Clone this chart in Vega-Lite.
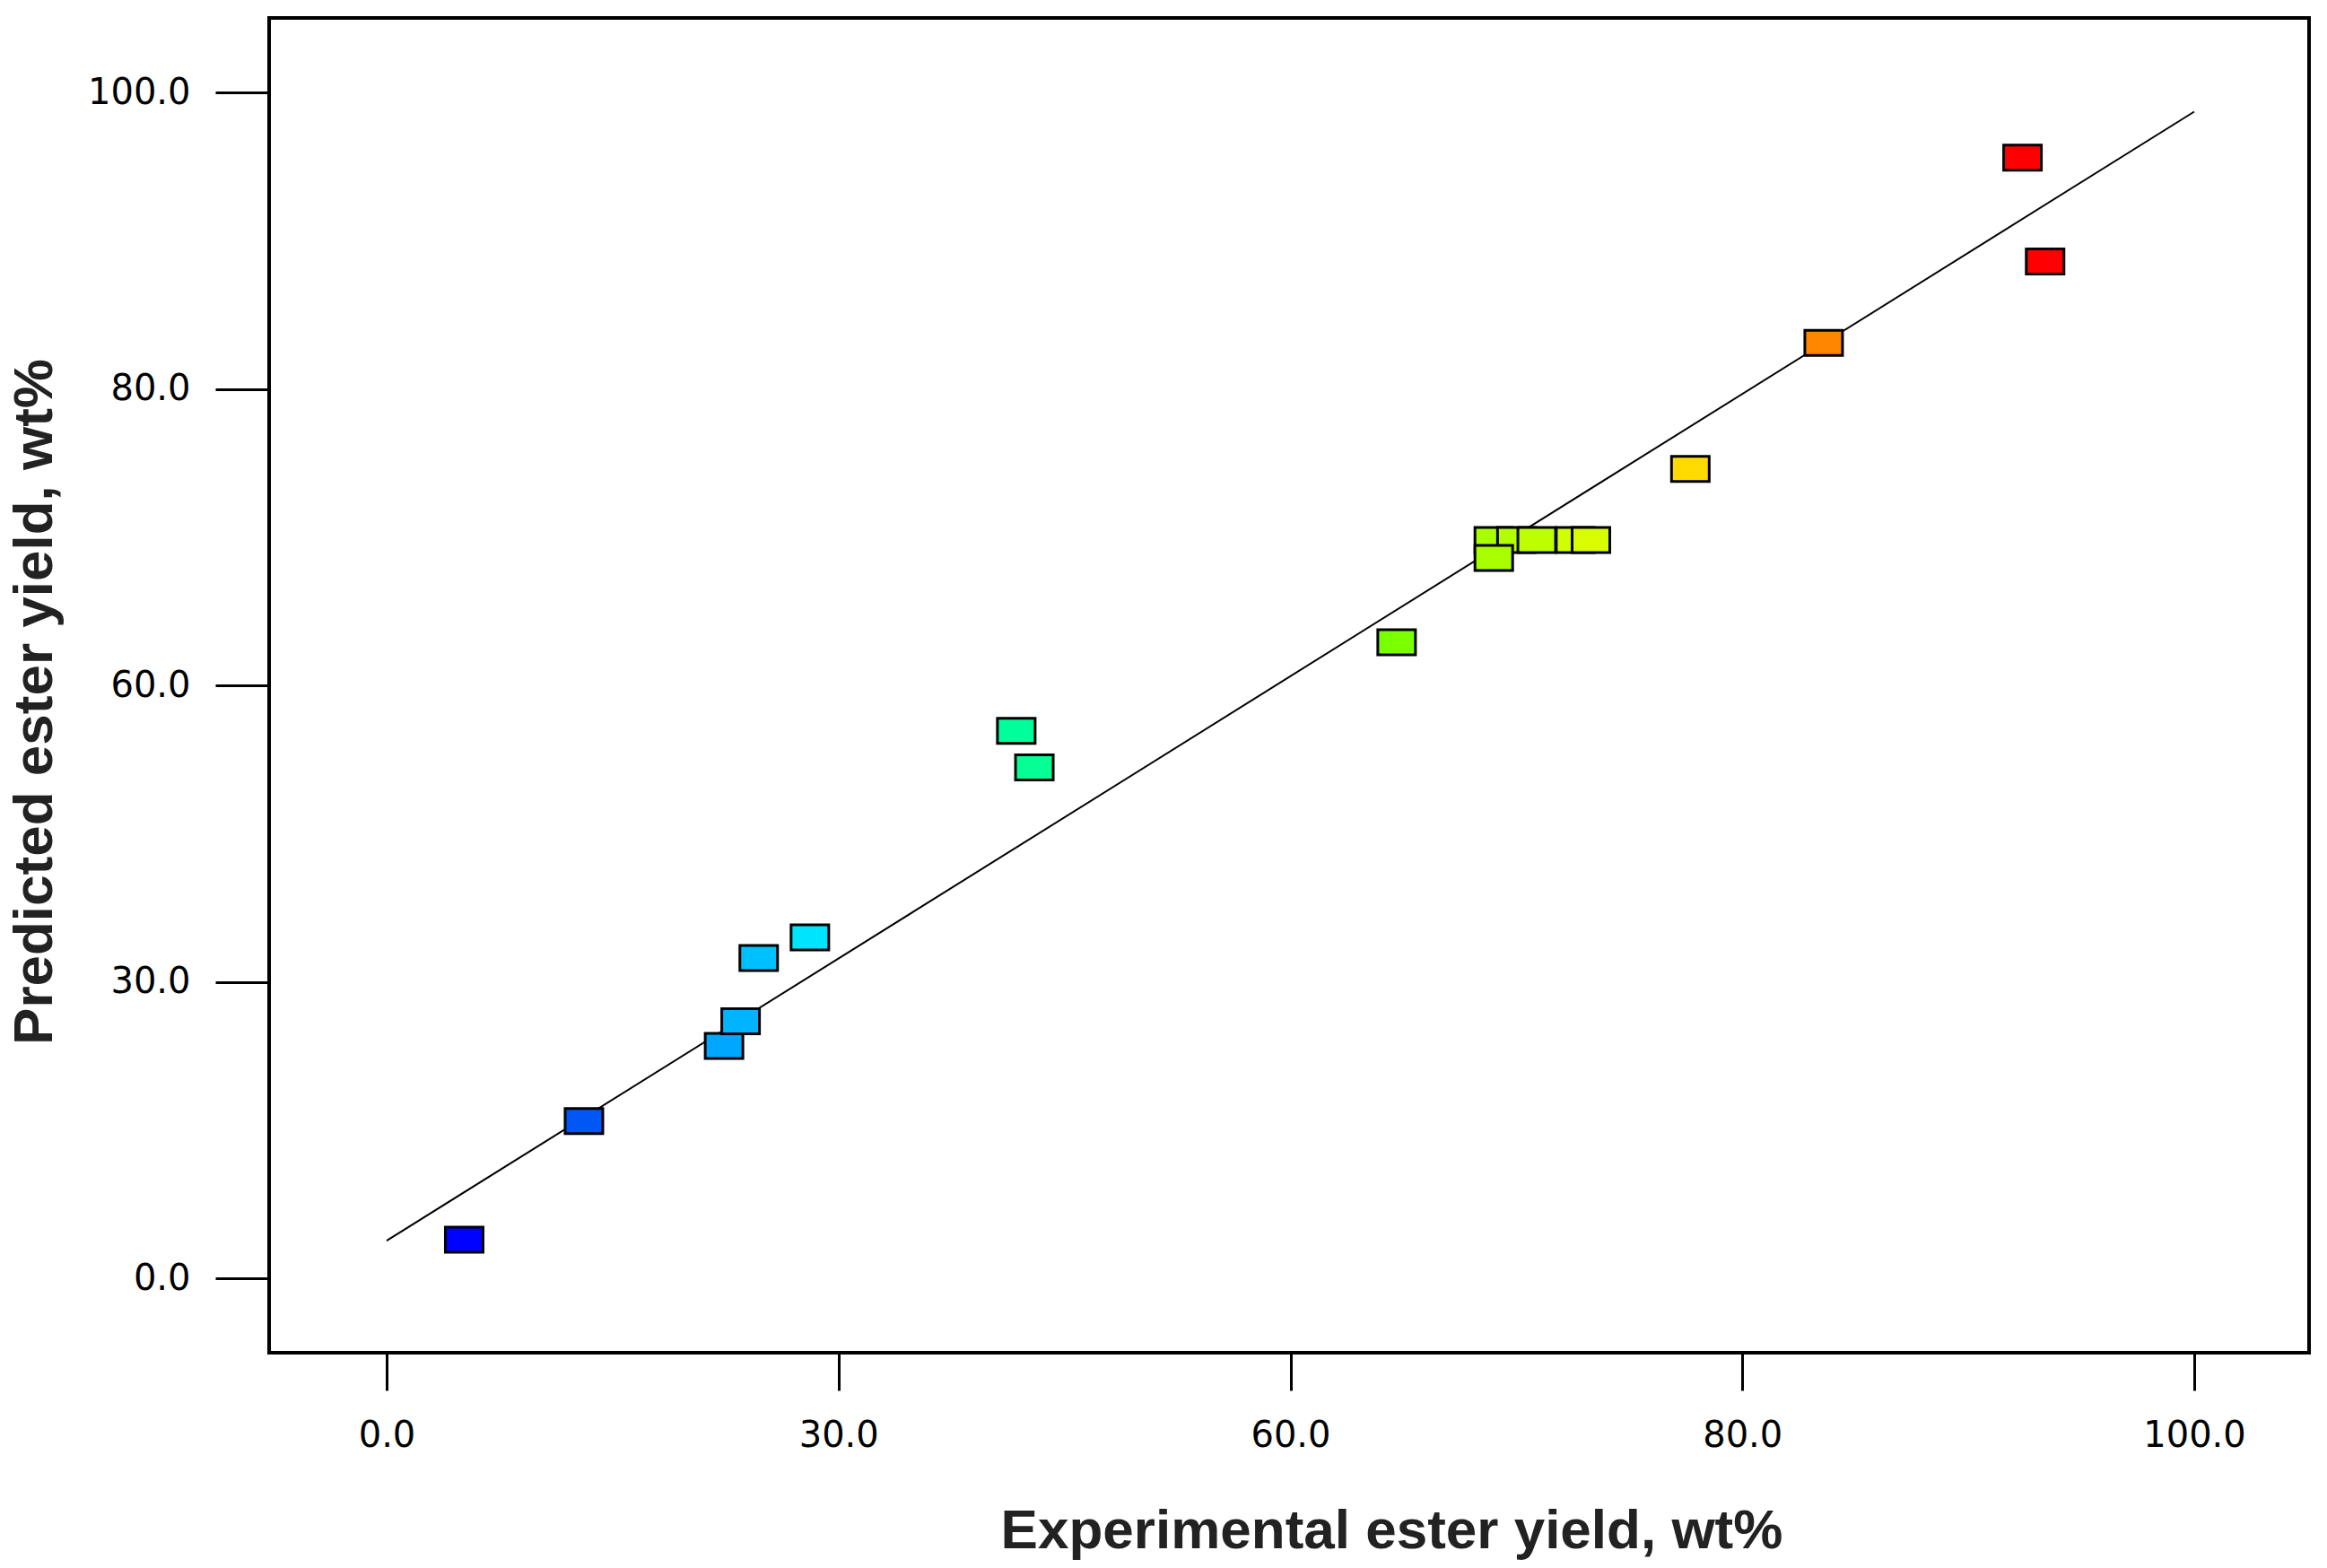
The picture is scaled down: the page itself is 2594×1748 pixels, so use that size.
{
  "$schema": "https://vega.github.io/schema/vega-lite/v6.json",
  "width": 2274,
  "height": 1488,
  "autosize": "none",
  "padding": {"left": 300, "top": 20, "right": 20, "bottom": 240},
  "background": "white",
  "config": {
    "view": {"stroke": "black", "strokeWidth": 4},
    "axis": {
      "grid": false,
      "domain": false,
      "tickColor": "black",
      "tickWidth": 3,
      "labelFlush": false,
      "labelFont": "DejaVu Sans",
      "labelFontSize": 40,
      "labelColor": "black",
      "titleFont": "Liberation Sans",
      "titleFontWeight": "bold",
      "titleFontSize": 62,
      "titleColor": "#222222"
    }
  },
  "datasets": {
    "points": [
      {"experimental": 5.15, "predicted": 3.9},
      {"experimental": 13.1, "predicted": 15.9},
      {"experimental": 22.4, "predicted": 23.5},
      {"experimental": 23.5, "predicted": 26.0},
      {"experimental": 24.7, "predicted": 32.4},
      {"experimental": 28.1, "predicted": 34.5},
      {"experimental": 41.8, "predicted": 55.4},
      {"experimental": 43.0, "predicted": 51.7},
      {"experimental": 64.7, "predicted": 62.9},
      {"experimental": 69.0, "predicted": 69.8},
      {"experimental": 70.0, "predicted": 69.8},
      {"experimental": 69.0, "predicted": 68.6},
      {"experimental": 70.9, "predicted": 69.8},
      {"experimental": 72.6, "predicted": 69.8},
      {"experimental": 73.3, "predicted": 69.8},
      {"experimental": 77.7, "predicted": 74.6},
      {"experimental": 83.6, "predicted": 83.1},
      {"experimental": 92.4, "predicted": 95.6},
      {"experimental": 93.4, "predicted": 88.6}
    ],
    "fit": [
      {"experimental": 0, "predicted": 3.8},
      {"experimental": 100, "predicted": 98.7}
    ]
  },
  "layer": [
    {
      "data": {"name": "fit"},
      "mark": {"type": "line", "color": "black", "strokeWidth": 2},
      "encoding": {
        "x": {
          "field": "experimental", "type": "quantitative",
          "scale": {"domain": [0, 30, 60, 80, 100], "range": [131, 634.75, 1138.5, 1642.25, 2146], "clamp": false, "nice": false, "zero": false},
          "axis": {
            "values": [0, 30, 60, 80, 100], "format": ".1f",
            "tickSize": 42, "labelPadding": 30,
            "title": "Experimental ester yield, wt%",
            "titlePadding": 56, "titleX": 1251
          }
        },
        "y": {
          "field": "predicted", "type": "quantitative",
          "scale": {"domain": [0, 30, 60, 80, 100], "range": [1405, 1074.5, 744, 413.5, 83], "clamp": false, "nice": false, "zero": false},
          "axis": {
            "values": [0, 30, 60, 80, 100], "format": ".1f",
            "tickSize": 60, "labelPadding": 28,
            "title": "Predicted ester yield, wt%",
            "titlePadding": 30, "titleY": 762
          }
        }
      }
    },
    {
      "data": {"name": "points"},
      "mark": {"type": "point", "filled": true, "opacity": 1, "shape": "M-1.5,-1L1.5,-1L1.5,1L-1.5,1Z", "size": 784, "stroke": "black", "strokeWidth": 3},
      "encoding": {
        "x": {"field": "experimental", "type": "quantitative"},
        "y": {"field": "predicted", "type": "quantitative"},
        "color": {
          "field": "experimental", "type": "quantitative",
          "scale": {
            "domain": [5, 13, 22.5, 24.5, 28, 42, 64.4, 69, 73, 77.3, 83.2, 92],
            "range": ["#0000FF", "#0055F5", "#00A8FF", "#00BFFF", "#00E5FF", "#00FF99", "#77FF00", "#A8FF00", "#D4FF00", "#FFE000", "#FF8C00", "#FF0000"],
            "interpolate": "rgb"
          },
          "legend": null
        }
      }
    }
  ]
}
